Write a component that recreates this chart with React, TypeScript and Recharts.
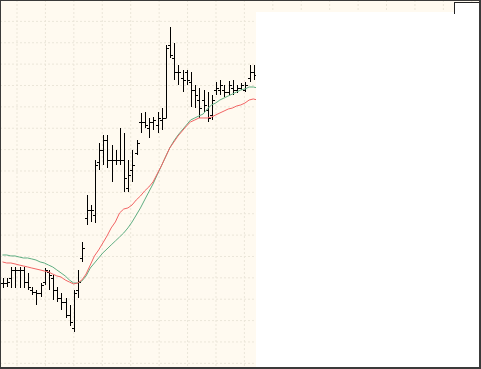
import React from 'react';
import { ComposedChart, Bar, Line, XAxis, YAxis, CartesianGrid } from 'recharts';

// Bar index (sessions)
const sessions = Array.from({ length: 62 }, (_, k) => k);

const openPrices = [
  13.52, 13.52, 13.99, 14.74, 14.74, 14.74, 13.61, 12.87, 12.68, 12.59,
  13.61, 14.55, 13.99, 12.87, 12.12, 11.74, 10.53, 9.31, 12.87, 15.86,
  19.6, 20.35, 19.88, 24.84, 25.97, 26.9, 25.03, 25.03, 25.03, 25.03,
  22.41, 24.09, 25.68, 28.59, 28.59, 28.02, 28.59, 28.3, 28.77, 28.96,
  35.79, 34.57, 33.26, 32.7, 33.26, 32.33, 31.58, 30.64, 30.64, 29.71,
  29.24, 31.58, 31.58, 31.58, 31.39, 31.77, 31.58, 31.77, 31.58, 32.7,
  33.26,
];
const highPrices = [
  13.99, 13.99, 15.02, 15.02, 15.02, 15.02, 14.46, 13.15, 12.87, 13.52,
  14.92, 14.74, 14.27, 13.15, 12.59, 12.12, 11.46, 12.87, 14.74, 17.36,
  21.75, 20.82, 25.03, 26.62, 27.37, 27.37, 26.43, 25.97, 28.02, 27.56,
  25.03, 25.97, 26.9, 29.43, 29.52, 28.96, 29.05, 29.52, 29.89, 35.79,
  37.47, 35.98, 33.92, 33.45, 33.45, 33.26, 32.05, 31.77, 31.58, 31.39,
  31.11, 32.33, 32.51, 32.05, 32.42, 32.51, 32.05, 32.23, 32.33, 33.92,
  33.92,
];
const lowPrices = [
  13.05, 13.15, 13.05, 13.05, 13.05, 13.05, 12.87, 12.4, 11.46, 12.21,
  13.33, 12.87, 11.93, 11.74, 10.99, 10.25, 9.5, 8.94, 12.12, 15.49,
  18.95, 19.23, 19.13, 24.09, 24.56, 24.28, 22.97, 24.56, 24.56, 22.04,
  22.04, 22.97, 25.5, 27.56, 28.02, 27.09, 27.84, 27.56, 27.84, 28.96,
  34.57, 32.51, 32.05, 31.39, 32.05, 29.99, 29.89, 28.96, 29.52, 28.59,
  28.77, 31.11, 31.11, 30.92, 31.11, 31.11, 31.3, 31.58, 31.39, 32.33,
  32.51,
];
const closePrices = [
  13.52, 13.61, 14.74, 14.74, 14.74, 13.61, 13.15, 12.68, 12.59, 13.33,
  14.74, 14.27, 12.87, 12.12, 11.74, 10.53, 9.87, 12.59, 13.61, 16.8,
  20.35, 20.35, 24.56, 25.97, 26.9, 25.03, 25.03, 25.03, 25.03, 23.35,
  23.63, 24.56, 26.62, 28.59, 28.3, 28.59, 28.77, 28.96, 28.96, 35.51,
  34.85, 33.26, 33.26, 32.51, 32.51, 31.58, 31.11, 29.89, 30.18, 28.96,
  30.64, 31.77, 32.05, 31.39, 32.05, 31.58, 31.77, 32.05, 32.05, 33.26,
  32.98,
];
const fastAverage = [
  15.49, 15.39, 15.39, 15.3, 15.2, 15.11, 15.02, 14.92, 14.83, 14.74,
  14.64, 14.55, 14.36, 14.18, 14.08, 13.8, 13.61, 13.43, 13.52, 13.8,
  14.36, 15.2, 16.05, 16.61, 17.26, 17.92, 18.67, 19.23, 20.07, 20.44,
  20.54, 20.82, 21.29, 21.66, 22.13, 22.5, 22.97, 23.72, 24.47, 25.31,
  26.15, 26.71, 27.28, 27.74, 28.21, 28.59, 28.77, 28.96, 28.96, 28.96,
  29.05, 29.24, 29.43, 29.61, 29.8, 29.89, 30.08, 30.18, 30.36, 30.64,
  30.74, 30.64,
];
const slowAverage = [
  16.14, 16.14, 16.05, 16.05, 15.95, 15.86, 15.86, 15.77, 15.67, 15.49,
  15.39, 15.2, 15.02, 14.74, 14.46, 14.18, 13.8, 13.52, 13.52, 13.71,
  14.18, 14.92, 15.39, 15.86, 16.33, 16.7, 17.08, 17.45, 17.82, 18.2,
  18.67, 19.23, 19.88, 20.54, 21.29, 22.04, 22.78, 23.63, 24.47, 25.31,
  26.15, 26.81, 27.37, 27.84, 28.3, 28.77, 28.96, 29.15, 29.33, 29.8,
  30.18, 30.36, 30.64, 30.83, 31.02, 31.2, 31.39, 31.58, 31.67, 31.86,
  31.86, 31.77,
];

const xGridTicks = [
  3.47, 10.27, 17.07, 23.87, 30.67, 37.47, 44.27, 51.07, 57.87, 64.67,
  71.47, 78.27, 85.07, 91.87, 98.67, 105.47, 112.27,
];
const yGridTicks = [38, 36, 34, 32, 30, 28, 26, 24, 22, 20, 18, 16, 14, 12, 10, 8, 6];

const xDomain: [number, number] = [-0.598, 114.47];
const yDomain: [number, number] = [5.47, 40];

const data = sessions.map((i) => ({
  i,
  open: openPrices[i],
  high: highPrices[i],
  low: lowPrices[i],
  close: closePrices[i],
  fast: fastAverage[i],
  slow: slowAverage[i],
}));

const OhlcShape = (props: any) => {
  const { x, y, width, height, payload } = props;
  if (!payload || payload.high == null || !isFinite(x) || !isFinite(y) || !isFinite(height)) return null;
  const { open, high, low, close } = payload;
  const cx = Math.round(x + width / 2) + 0.5;
  const range = high - low;
  const toY = (v: number) => y + (range === 0 ? 0 : ((high - v) / range) * height);
  const yo = Math.round(toY(open)) + 0.5;
  const yc = Math.round(toY(close)) + 0.5;
  const stroke = '#000';
  return (
    <g>
      <line x1={cx} x2={cx} y1={Math.round(y)} y2={Math.round(y + height)} stroke={stroke} strokeWidth={1} />
      <line x1={cx - 2.5} x2={cx} y1={yo} y2={yo} stroke={stroke} strokeWidth={1} />
      <line x1={cx} x2={cx + 2.5} y1={yc} y2={yc} stroke={stroke} strokeWidth={1} />
    </g>
  );
};

export default function App() {
  return (
    <div style={{ position: 'fixed', left: 0, top: 0, width: 481, height: 369, background: '#fff' }}>
      <ComposedChart width={481} height={369} data={data} margin={{ top: 0, right: 0, bottom: 0, left: 0 }}>
        <CartesianGrid
          fill="#fffaf0"
          fillOpacity={1}
          stroke="#ebe6d9"
          strokeDasharray="2 2"
          horizontalValues={yGridTicks}
          verticalValues={xGridTicks}
        />
        <XAxis dataKey="i" type="number" domain={xDomain} allowDataOverflow hide ticks={xGridTicks} interval={0} />
        <YAxis type="number" domain={yDomain} allowDataOverflow hide ticks={yGridTicks} interval={0} />
        <Bar
          dataKey={(d: any) => (d.high == null ? null : [d.low, d.high])}
          barSize={3}
          shape={OhlcShape}
          isAnimationActive={false}
        />
        <Line dataKey="slow" type="linear" stroke="#5fae82" strokeWidth={1} dot={false} activeDot={false} isAnimationActive={false} />
        <Line dataKey="fast" type="linear" stroke="#f26464" strokeWidth={1} dot={false} activeDot={false} isAnimationActive={false} />
      </ComposedChart>
      <div style={{ position: 'absolute', left: 256, top: 12, width: 225, height: 357, background: '#fff' }} />
      <div
        style={{
          position: 'absolute',
          left: 454,
          top: 2,
          width: 27,
          height: 12,
          background: '#fff',
          borderTop: '1px solid #222',
          borderLeft: '1px solid #222',
          boxSizing: 'border-box',
        }}
      />
      <div
        style={{
          position: 'absolute',
          left: 0,
          top: 0,
          width: 481,
          height: 369,
          boxSizing: 'border-box',
          borderLeft: '1px solid #3a3a3a',
          borderTop: '1px solid #3a3a3a',
          borderRight: '2px solid #3a3a3a',
          borderBottom: '2px solid #3a3a3a',
          pointerEvents: 'none',
        }}
      />
    </div>
  );
}
